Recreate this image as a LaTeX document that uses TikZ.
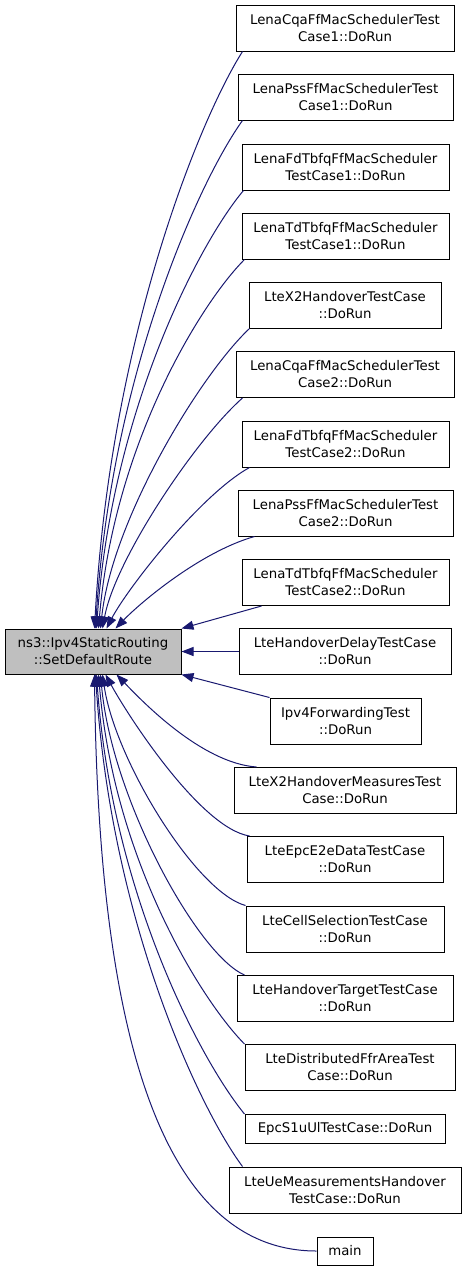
\documentclass[tikz,border=0pt]{standalone}
\usepackage{fontspec}
\setmainfont{DejaVu Sans}
\usetikzlibrary{arrows.meta,calc}

\definecolor{edgeblue}{HTML}{191970}
\definecolor{rootgray}{HTML}{BFBFBF}

\tikzset{
    fn/.style={draw=black, line width=1pt, fill=white, align=center,
        inner sep=0pt, minimum height=46pt,
        font=\fontsize{13.3pt}{17pt}\selectfont},
    callarrow/.style={draw=edgeblue, line width=1pt,
        {Triangle[length=12pt,width=9pt]}-}
}

\begin{document}
\begin{tikzpicture}[x=1pt, y=-1pt]
\useasboundingbox (0,0) rectangle (467,1272);

\node[fn, fill=rootgray, minimum width=176, minimum height=45] (setroute) at (93,651.5)
    {ns3::Ipv4StaticRouting\\::SetDefaultRoute};

\node[fn, minimum width=218] (cqaone)   at (345,28)    {LenaCqaFfMacSchedulerTest\\Case1::DoRun};
\node[fn, minimum width=215] (pssone)   at (345.5,97)  {LenaPssFfMacSchedulerTest\\Case1::DoRun};
\node[fn, minimum width=207] (fdone)    at (345.5,167) {LenaFdTbfqFfMacScheduler\\TestCase1::DoRun};
\node[fn, minimum width=207] (tdone)    at (345.5,236) {LenaTdTbfqFfMacScheduler\\TestCase1::DoRun};
\node[fn, minimum width=192] (xtwo)     at (345,305)   {LteX2HandoverTestCase\\::DoRun};
\node[fn, minimum width=218] (cqatwo)   at (345,374.5) {LenaCqaFfMacSchedulerTest\\Case2::DoRun};
\node[fn, minimum width=207] (fdtwo)    at (345.5,444) {LenaFdTbfqFfMacScheduler\\TestCase2::DoRun};
\node[fn, minimum width=215] (psstwo)   at (345.5,513) {LenaPssFfMacSchedulerTest\\Case2::DoRun};
\node[fn, minimum width=207] (tdtwo)    at (345.5,582.5) {LenaTdTbfqFfMacScheduler\\TestCase2::DoRun};
\node[fn, minimum width=212] (hodelay)  at (345,651.5) {LteHandoverDelayTestCase\\::DoRun};
\node[fn, minimum width=151] (fwd)      at (345.5,721) {Ipv4ForwardingTest\\::DoRun};
\node[fn, minimum width=222] (xtwomeas) at (345,790.5) {LteX2HandoverMeasuresTest\\Case::DoRun};
\node[fn, minimum width=196] (etoe)     at (345,859.5) {LteEpcE2eDataTestCase\\::DoRun};
\node[fn, minimum width=198] (cellsel)  at (345,929)   {LteCellSelectionTestCase\\::DoRun};
\node[fn, minimum width=216] (hotarget) at (345,998.5) {LteHandoverTargetTestCase\\::DoRun};
\node[fn, minimum width=210] (ffrarea)  at (350,1067.5) {LteDistributedFfrAreaTest\\Case::DoRun};
\node[fn, minimum width=200, minimum height=29] (sone) at (345,1129) {EpcS1uUlTestCase::DoRun};
\node[fn, minimum width=232] (uemeas)   at (345,1190)  {LteUeMeasurementsHandover\\TestCase::DoRun};
\node[fn, minimum width=56, minimum height=28] (mainfn) at (345,1251) {main};

% callers above
\draw[callarrow] ($(setroute.north west)+(90,0)$) .. controls (110,340) and (199,120) .. ($(cqaone.south west)+(7,0)$);
\draw[callarrow] ($(setroute.north west)+(91,0)$) .. controls (111,375) and (199,181) .. ($(pssone.south west)+(5,0)$);
\draw[callarrow] ($(setroute.north west)+(92,0)$) .. controls (112,409) and (200,242) .. ($(fdone.south west)+(2,0)$);
\draw[callarrow] ($(setroute.north west)+(94,0)$) .. controls (114,444) and (201,303) .. ($(tdone.south west)+(3,0)$);
\draw[callarrow] ($(setroute.north west)+(96,0)$) .. controls (112,520) and (200,375) .. ($(xtwo.south west)+(1,0)$);
\draw[callarrow] ($(setroute.north west)+(98,0)$) .. controls (115,560) and (195,440) .. ($(cqatwo.south west)+(7,0)$);
\draw[callarrow] ($(setroute.north west)+(102,0)$) .. controls (127,589) and (200,495) .. ($(fdtwo.south west)+(8,0)$);
\draw[callarrow] ($(setroute.north west)+(111,0)$) .. controls (140,603) and (200,552) .. ($(psstwo.south west)+(17,0)$);
\draw[callarrow] (setroute.north east) -- ($(tdtwo.south west)+(20,0)$);

\draw[callarrow] (setroute.east) -- (hodelay.west);

% callers below
\draw[callarrow] (setroute.south east) -- (fwd.north west);
\draw[callarrow] ($(setroute.south west)+(112,0)$) .. controls (141,700) and (201,763) .. ($(xtwomeas.north west)+(23,0)$);
\draw[callarrow] ($(setroute.south west)+(101,0)$) .. controls (127,714) and (200,828) .. ($(etoe.north west)+(3,0)$);
\draw[callarrow] ($(setroute.south west)+(98,0)$) .. controls (115,760) and (196,892) .. (cellsel.north west);
\draw[callarrow] ($(setroute.south west)+(96,0)$) .. controls (112,800) and (198,955) .. ($(hotarget.north west)+(8,0)$);
\draw[callarrow] ($(setroute.south west)+(94,0)$) .. controls (114,860) and (201,1000) .. (ffrarea.north west);
\draw[callarrow] ($(setroute.south west)+(92,0)$) .. controls (112,894) and (201,1061) .. (sone.north west);
\draw[callarrow] ($(setroute.south west)+(91,0)$) .. controls (111,920) and (199,1108) .. ($(uemeas.north west)+(14,0)$);
\draw[callarrow] ($(setroute.south west)+(90,0)$) .. controls (98,1000) and (150,1251) .. (mainfn.west);
\end{tikzpicture}
\end{document}
